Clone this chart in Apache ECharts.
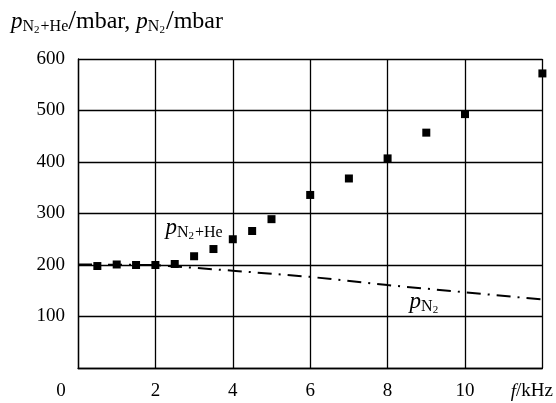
<!DOCTYPE html>
<html>
<head>
<meta charset="utf-8">
<script src="https://cdn.jsdelivr.net/npm/echarts@6/dist/echarts.min.js"></script>
<style>
  html, body { margin: 0; padding: 0; background: #fff; }
  #chart { width: 556px; height: 403px; }
</style>
</head>
<body>
<div id="chart"></div>
<script>
// measured points, p(N2+He) vs frequency
var freq = [0.5, 1, 1.5, 2, 2.5, 3, 3.5, 4, 4.5, 5, 6, 7, 8, 9, 10, 12];
var pMix = [198, 201, 200, 200, 202, 217, 231, 250, 266, 289, 336, 368, 407, 457, 493, 572];
// p(N2) curve, dash-dot
var lineF = [0, 2, 4, 6, 8, 10, 12];
var pN2 = [201, 200, 189, 177, 161, 147, 133];
var xTicks = [0, 2, 4, 6, 8, 10, 12];
var yTicks = [100, 200, 300, 400, 500, 600];

var serif = '"Liberation Serif", "DejaVu Serif", serif';
var black = '#000';

function pairs(xs, ys) {
  return xs.map(function (x, i) { return [x, ys[i]]; });
}

// rich styles for the p_N2 / p_N2+He texts
var subRich = {
  p: { fontFamily: serif, fontStyle: 'italic', fontSize: 23, color: black },
  s: { fontFamily: serif, fontSize: 16, color: black, padding: [9, 0, 0, 0] },
  t: { fontFamily: serif, fontSize: 11, color: black, padding: [16, 1, 0, 0] },
  n: { fontFamily: serif, fontSize: 24, color: black },
  sl: { fontFamily: serif, fontSize: 28, color: black }
};

var chart = echarts.init(document.getElementById('chart'));

chart.setOption({
  animation: false,
  backgroundColor: '#fff',
  title: {
    left: 6,
    top: 3,
    text: '{p|p}{s|N}{t|2}{s|+He}{sl|/}{n|mbar, }{p|p}{s|N}{t|2}{sl|/}{n|mbar}',
    textStyle: { fontFamily: serif, fontWeight: 'normal', color: black, rich: subRich }
  },
  grid: { left: 78, right: 11, top: 59, bottom: 35 },
  xAxis: {
    type: 'value',
    min: 0,
    max: 12,
    interval: 2,
    axisLine: { show: true, lineStyle: { color: black, width: 1.3 } },
    axisTick: { show: false },
    splitLine: { show: true, lineStyle: { color: black, width: 1.3 } },
    axisLabel: {
      margin: 14,
      showMinLabel: true,
      showMaxLabel: true,
      fontFamily: serif,
      fontSize: 19,
      color: black,
      formatter: function (v) {
        if (v === 0) return '{z|0}';
        if (v === 12) return '{i|f}{k|/kHz}';
        return v;
      },
      rich: {
        z: { fontFamily: serif, fontSize: 19, color: black, padding: [0, 34, 0, 0] },
        i: { fontFamily: serif, fontSize: 19, color: black, fontStyle: 'italic' },
        k: { fontFamily: serif, fontSize: 19, color: black, padding: [0, 21, 0, 0] }
      }
    }
  },
  yAxis: {
    type: 'value',
    min: 0,
    max: 600,
    interval: 100,
    axisLine: { show: true, lineStyle: { color: black, width: 1.3 } },
    axisTick: { show: false },
    splitLine: { show: true, lineStyle: { color: black, width: 1.3 } },
    axisLabel: {
      margin: 13,
      fontFamily: serif,
      fontSize: 19,
      color: black,
      formatter: function (v) { return yTicks.indexOf(v) >= 0 ? v : ''; }
    }
  },
  series: [
    {
      name: 'pN2',
      type: 'line',
      data: pairs(lineF, pN2),
      symbol: 'none',
      lineStyle: { color: black, width: 2, type: [14, 7, 2, 7] },
      markPoint: {
        symbol: 'circle',
        symbolSize: 0,
        label: { show: true, formatter: '{p|p}{s|N}{t|2}', rich: subRich },
        data: [{ coord: [8.95, 128] }]
      }
    },
    {
      name: 'pMix',
      type: 'scatter',
      data: pairs(freq, pMix),
      symbol: 'rect',
      symbolSize: 8,
      itemStyle: { color: black, opacity: 1 },
      markPoint: {
        symbol: 'circle',
        symbolSize: 0,
        label: { show: true, formatter: '{p|p}{s|N}{t|2}{s|+He}', rich: subRich },
        data: [{ coord: [3.0, 271] }]
      }
    }
  ]
});
</script>
</body>
</html>
